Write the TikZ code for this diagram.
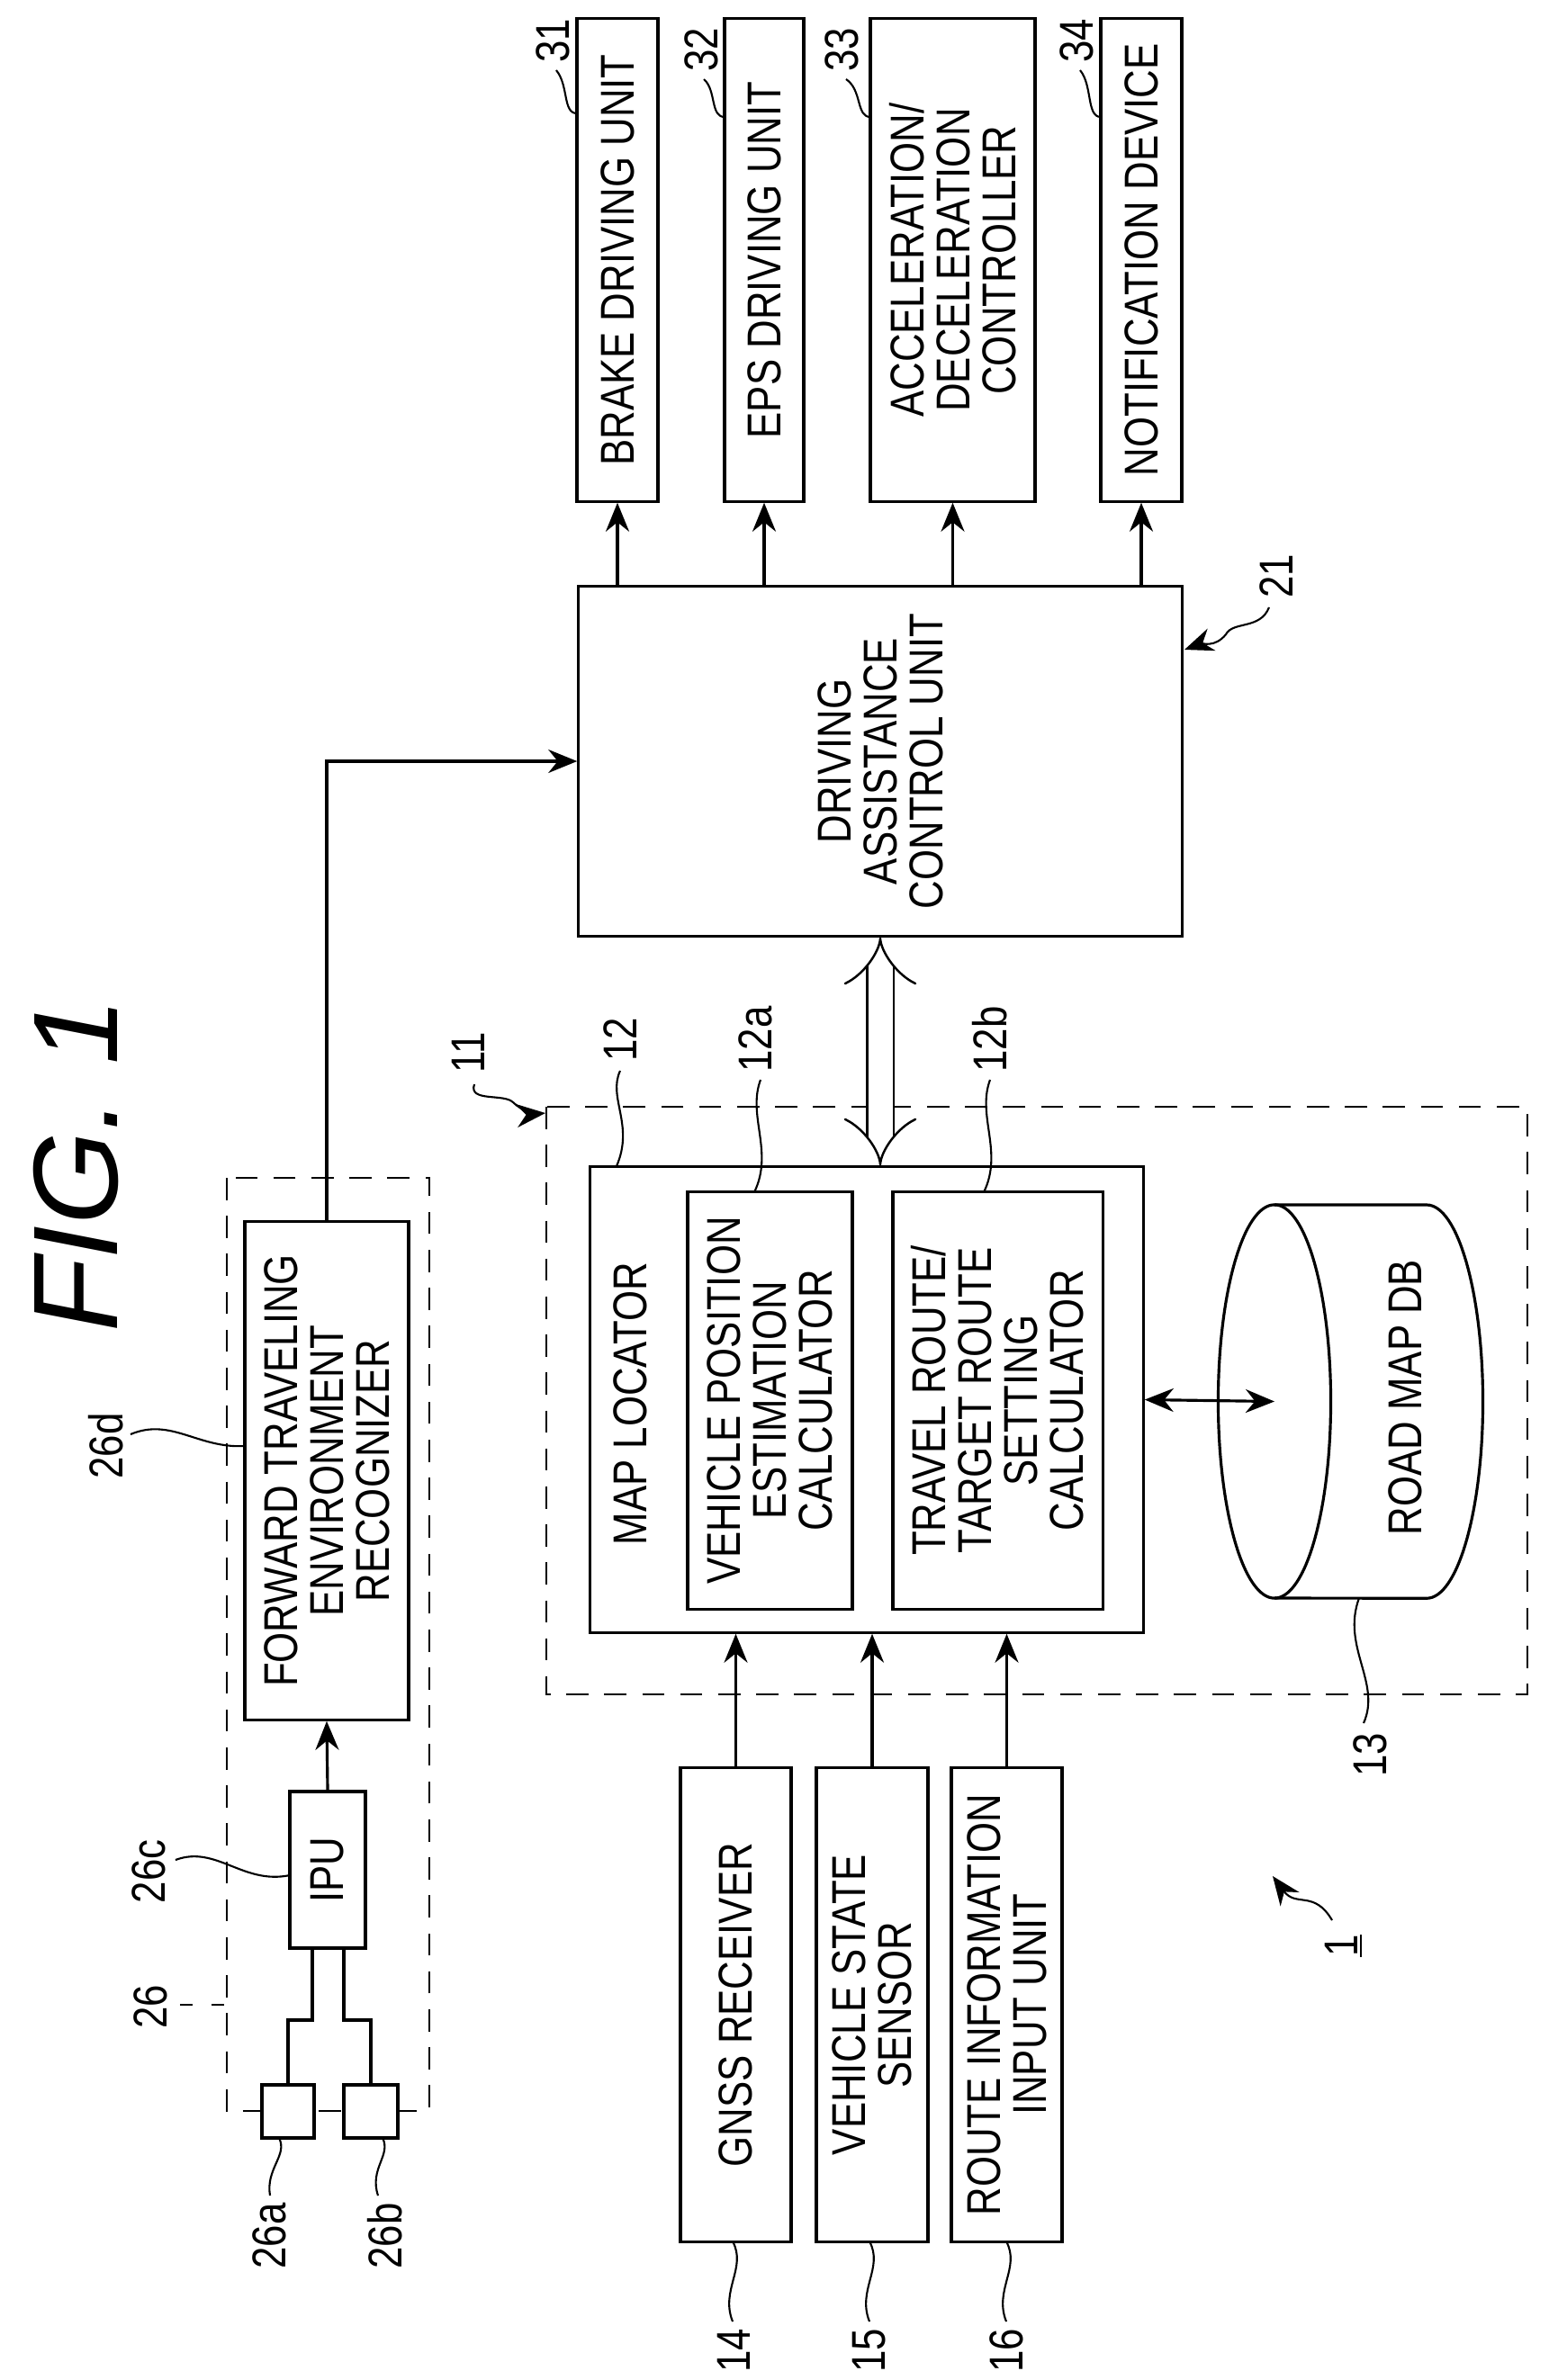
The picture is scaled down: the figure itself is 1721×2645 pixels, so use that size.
\documentclass[tikz,border=0pt]{standalone}
\usepackage{fontspec}
\setmainfont{Liberation Sans}[FakeStretch=0.83]
\newfontfamily\figfont{Liberation Sans}
\usetikzlibrary{arrows.meta,calc}
\begin{document}
\begin{tikzpicture}[x=0.01cm, y=-0.01cm, line width=0.9pt,
    box/.style={rectangle, draw, rotate=90, align=center, inner sep=0pt,
                font=\fontsize{15}{14.5}\selectfont},
    txt/.style={rotate=90, align=center, inner sep=0pt, font=\fontsize{15}{14.5}\selectfont},
    lbl/.style={rotate=90, inner sep=1pt, font=\fontsize{15}{15}\selectfont},
    grp/.style={dashed, dash pattern=on 7pt off 5pt, line width=0.7pt},
    lead/.style={line width=0.6pt},
    arrow/.style={-{Stealth[length=3.2mm,width=2.6mm]}},
    barrow/.style={{Stealth[length=3.2mm,width=2.6mm]}-{Stealth[length=3.2mm,width=2.6mm]}}
]
    \useasboundingbox (0,0) rectangle (1721,2645);
    % Title
    \node[rotate=90, font=\figfont\fontsize{38}{40}\itshape\selectfont] (title) at (84,1295) {FIG. 1};

    % Output units
    \node[box, minimum width=5.36cm, minimum height=0.90cm] (brake) at (686,289) {BRAKE DRIVING UNIT};
    \node[box, minimum width=5.36cm, minimum height=0.88cm] (eps) at (849,289) {EPS DRIVING UNIT};
    \node[box, minimum width=5.36cm, minimum height=1.83cm] (acc) at (1058.5,289) {ACCELERATION/\\DECELERATION\\CONTROLLER};
    \node[box, minimum width=5.36cm, minimum height=0.90cm] (notif) at (1268,289) {NOTIFICATION DEVICE};

    % Driving assistance control unit
    \node[box, minimum width=3.88cm, minimum height=6.70cm] (das) at (978,846) {DRIVING\\ASSISTANCE\\CONTROL UNIT};
    \foreach \u in {brake,eps,acc,notif}
        \draw[arrow] (\u.west |- das.east) -- (\u.west);

    % Camera unit 26
    \draw[grp] (252,1309) rectangle (477,2346);
    \node[box, minimum width=5.53cm, minimum height=1.82cm] (fwd) at (363,1634.5) {FORWARD TRAVELING\\ENVIRONMENT\\RECOGNIZER};
    \node[box, minimum width=1.74cm, minimum height=0.84cm] (ipu) at (364,2078) {IPU};
    \node[box, fill=white, minimum width=0.59cm, minimum height=0.58cm] (cama) at (320,2346.5) {};
    \node[box, fill=white, minimum width=0.59cm, minimum height=0.60cm] (camb) at (412,2346.5) {};
    \draw (347,2165) -- (347,2245) -| (cama.east);
    \draw (382,2165) -- (382,2245) -| (camb.east);
    \draw[arrow] (ipu.east) -- (fwd.west);
    \draw[arrow] (fwd.east) |- (das.north);

    % Map locator unit 11
    \draw[grp] (607,1230) rectangle (1697,1883);
    \node[box, minimum width=5.17cm, minimum height=6.14cm] (map) at (963,1555.5) {};
    \node[txt] (maptxt) at (700,1560) {MAP LOCATOR};
    \node[box, minimum width=4.63cm, minimum height=1.83cm] (vpe) at (855.5,1556.5) {VEHICLE POSITION\\ESTIMATION\\CALCULATOR};
    \node[box, minimum width=4.63cm, minimum height=2.33cm] (trs) at (1108.5,1556.5) {TRAVEL ROUTE/\\TARGET ROUTE\\SETTING\\CALCULATOR};
    \draw[double, double distance=0.27cm, line width=0.7pt, {Implies}-{Implies}] (das.west) -- (das.west |- map.east);

    % Road map DB
    \coordinate (dbc) at (1416,1557.5);
    \draw (1416,1339) -- (1585,1339) arc[start angle=90, end angle=-90, x radius=0.625cm, y radius=2.185cm] -- (1416,1776);
    \draw (dbc) ellipse [x radius=0.625cm, y radius=2.185cm];
    \node[txt] (db) at (1561,1553) {ROAD MAP DB};
    \draw[barrow] (map.south) -- (dbc);

    % Inputs
    \node[box, minimum width=5.26cm, minimum height=1.23cm] (gnss) at (817.5,2228) {GNSS RECEIVER};
    \node[box, minimum width=5.26cm, minimum height=1.24cm] (vss) at (969,2228) {VEHICLE STATE\\SENSOR};
    \node[box, minimum width=5.26cm, minimum height=1.23cm] (rii) at (1118.5,2228) {ROUTE INFORMATION\\INPUT UNIT};
    \foreach \u in {gnss,vss,rii}
        \draw[arrow] (\u.east) -- (\u.east |- map.west);

    % Reference numerals
    \node[lbl] (n31) at (614,45) {31};
    \draw[lead] (641,126) .. controls (625,126) and (632,95) .. (618,78);
    \node[lbl] (n32) at (779,55) {32};
    \draw[lead] (805,130) .. controls (789,130) and (796,100) .. (782,88);
    \node[lbl] (n33) at (935,55) {33};
    \draw[lead] (967,130) .. controls (951,130) and (958,100) .. (940,88);
    \node[lbl] (n34) at (1196,45) {34};
    \draw[lead] (1223,130) .. controls (1207,130) and (1214,95) .. (1200,78);
    \node[lbl] (n21) at (1418,640) {21};
    \draw[lead, arrow] (1410,675) .. controls (1400,700) and (1370,690) .. (1362,705) .. controls (1350,720) and (1335,715) .. (1316,722);
    \node[lbl] (n11) at (520,1170) {11};
    \draw[lead, arrow] (527,1205) .. controls (520,1225) and (560,1215) .. (570,1225) .. controls (580,1235) and (595,1238) .. (606,1237);
    \node[lbl] (n12) at (689,1155) {12};
    \draw[lead] (689,1190) .. controls (675,1220) and (705,1250) .. (685,1296);
    \node[lbl] (n12a) at (839,1155) {12a};
    \draw[lead] (845,1200) .. controls (830,1240) and (860,1280) .. (838,1325);
    \node[lbl] (n12b) at (1100,1155) {12b};
    \draw[lead] (1100,1200) .. controls (1085,1240) and (1115,1280) .. (1093,1325);
    \node[lbl] (n13) at (1522,1950) {13};
    \draw[lead] (1510,1776) .. controls (1490,1830) and (1535,1870) .. (1515,1915);
    \node[lbl] (n26d) at (118,1607) {26d};
    \draw[lead] (145,1594) .. controls (190,1575) and (220,1610) .. (272,1607);
    \node[lbl] (n26c) at (165,2080) {26c};
    \draw[lead] (195,2067) .. controls (240,2050) and (270,2095) .. (322,2084);
    \node[lbl] (n26) at (167,2230) {26};
    \draw[lead, dash pattern=on 4pt off 6pt] (200,2228) -- (252,2228);
    \node[lbl] (n26a) at (299,2485) {26a};
    \draw[lead] (310,2376) .. controls (320,2395) and (295,2410) .. (300,2440);
    \node[lbl] (n26b) at (428,2485) {26b};
    \draw[lead] (425,2376) .. controls (435,2395) and (410,2410) .. (420,2440);
    \node[lbl] (n14) at (815,2612) {14};
    \draw[lead] (814,2491) .. controls (830,2520) and (800,2545) .. (814,2580);
    \node[lbl] (n15) at (966,2612) {15};
    \draw[lead] (966,2491) .. controls (982,2520) and (952,2545) .. (966,2580);
    \node[lbl] (n16) at (1118,2612) {16};
    \draw[lead] (1118,2491) .. controls (1134,2520) and (1104,2545) .. (1118,2580);
    \node[lbl] (n1) at (1490,2162) {1};
    \draw[lead] (1512,2150) -- (1512,2175);
    \draw[lead, arrow] (1480,2134) .. controls (1460,2100) and (1440,2120) .. (1414,2085);
\end{tikzpicture}
\end{document}
